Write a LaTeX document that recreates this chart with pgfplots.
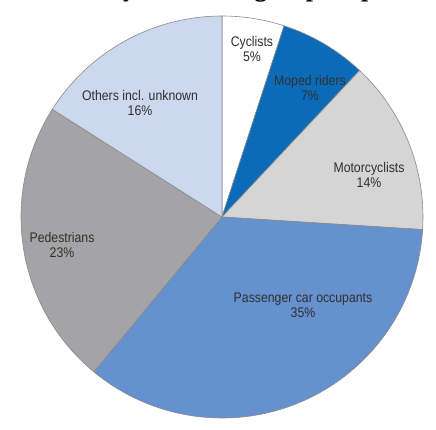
\documentclass[border=0pt]{standalone}
\usepackage{pgfplots}
\pgfplotsset{compat=1.18}
\usepackage{pgfplotstable}
\usepackage{fontspec}
\setmainfont{Liberation Sans}
\newfontfamily\lbl[FakeStretch=0.88]{Liberation Sans}
\newfontfamily\ttl{Liberation Serif}
\definecolor{cCyc}{HTML}{FFFFFF}
\definecolor{cMop}{HTML}{0B6BB8}
\definecolor{cMot}{HTML}{D5D5D5}
\definecolor{cCar}{HTML}{6591CE}
\definecolor{cPed}{HTML}{A4A4A6}
\definecolor{cOth}{HTML}{CCD8EE}
\definecolor{txt}{HTML}{303030}
\definecolor{edge}{HTML}{8A8A8A}

% value (percent), colour, label position (axis units = bp, pie centre at 0,0), label
\pgfplotstableread[col sep=comma]{
value,col,lx,ly,label
5,cCyc,30,168,Cyclists
7,cMop,88,129,Moped riders
14,cMot,147,42,Motorcyclists
35,cCar,81,-88,Passenger car occupants
23,cPed,-160,-28,Pedestrians
16,cOth,-82,114,Others incl. unknown
}\piedata

\begin{document}
\begin{tikzpicture}
\begin{axis}[
  hide axis,
  x=1bp, y=1bp,
  xmin=-222, xmax=214,
  ymin=-213, ymax=217,
  clip=false,
]
\pgfplotsextra{%
  \pgfplotstablegetrowsof{\piedata}%
  \pgfmathtruncatemacro\lastrow{\pgfplotsretval-1}%
  \gdef\cum{0}%
  \foreach \r in {0,...,\lastrow}{%
    \pgfplotstablegetelem{\r}{value}\of\piedata \let\sv\pgfplotsretval
    \pgfplotstablegetelem{\r}{col}\of\piedata \let\slicecol\pgfplotsretval
    \pgfmathsetmacro\aA{90-3.6*\cum}%
    \pgfmathsetmacro\aB{90-3.6*(\cum+\sv)}%
    \filldraw[fill=\slicecol, draw=edge, line width=0.6pt, line join=round]
      (axis cs:0,0) -- ++(\aA:201bp) arc[start angle=\aA, end angle=\aB, radius=201bp] -- cycle;
    \pgfmathsetmacro\newcum{\cum+\sv}%
    \xdef\cum{\newcum}%
  }%
  \foreach \r in {0,...,\lastrow}{%
    \pgfplotstablegetelem{\r}{value}\of\piedata \let\sv\pgfplotsretval
    \pgfplotstablegetelem{\r}{lx}\of\piedata \let\lx\pgfplotsretval
    \pgfplotstablegetelem{\r}{ly}\of\piedata \let\ly\pgfplotsretval
    \pgfplotstablegetelem{\r}{label}\of\piedata \let\lab\pgfplotsretval
    \node[align=center, text=txt, inner sep=0pt,
      font=\lbl\fontsize{14}{15.5}\selectfont] at (axis cs:\lx,\ly) {\lab\\\sv\%};
  }%
}
\end{axis}
\node[anchor=base west, inner sep=0pt, font=\ttl\bfseries\fontsize{26}{28}\selectfont]
  at (0bp,433bp) {Fatalities by road user group, in percentage};
\pgfresetboundingbox
\path[use as bounding box] (0,0) rectangle (436bp,430bp);
\end{tikzpicture}
\end{document}
